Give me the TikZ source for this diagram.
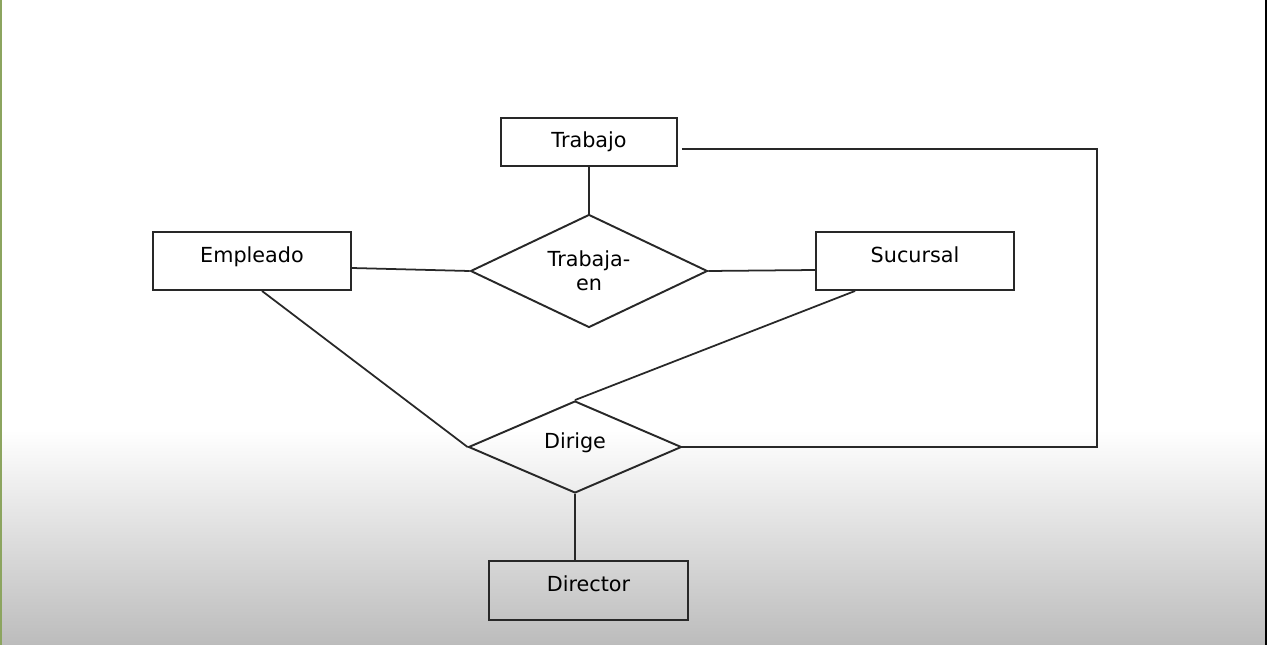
\documentclass[tikz,border=0pt]{standalone}
\usepackage{fontspec}
\setmainfont{DejaVu Sans}
\usetikzlibrary{shapes.geometric}
\definecolor{inkgray}{RGB}{40,40,40}
\definecolor{floorgray}{RGB}{188,188,188}
\definecolor{edgegreen}{RGB}{140,165,95}
\tikzset{
  entity/.style={draw=inkgray, line width=1.1pt, rectangle, inner sep=0pt,
    minimum width=3.96cm, minimum height=1.16cm},
  relation/.style={draw=inkgray, line width=1.1pt, diamond, inner sep=0pt,
    shape aspect=2.1, align=center},
  raised/.style={text height=0.8em, text depth=0.66em},
  link/.style={draw=inkgray, line width=1pt},
}
\begin{document}
\begin{tikzpicture}[x=0.02cm, y=-0.02cm, font=\fontsize{11.8}{13.6}\selectfont]
% background
\fill[white] (0,0) rectangle (1267,645);
\shade[top color=white, bottom color=floorgray] (0,430) rectangle (1267,645);
\fill[edgegreen] (0,0) rectangle (2,645);
\fill[black] (1265,0) rectangle (1267,645);
\useasboundingbox (0,0) rectangle (1267,645);

% entities
\node[entity, minimum width=3.52cm, minimum height=0.96cm] (trabajo) at (589,142) {Trabajo};
\node[entity, raised] (empleado) at (252,261) {Empleado};
\node[entity, raised] (sucursal) at (915,261) {Sucursal};
\node[entity, raised, minimum width=3.98cm, minimum height=1.18cm] (director) at (588.5,590.5) {Director};

% relations
\node[relation, minimum width=4.74cm, minimum height=2.26cm] (trabajaen) at (589,271) {Trabaja-\\en};
\node[relation, raised, minimum width=4.26cm, minimum height=1.84cm] (dirige) at (575,447) {Dirige};

% links
\draw[link] (trabajo.south) -- (trabajaen.north);
\draw[link] ([shift={(0,7)}]empleado.east) -- (trabajaen.west);
\draw[link] (trabajaen.east) -- ([shift={(0,9)}]sucursal.west);
\draw[link] ([shift={(10,0)}]empleado.south) -- (dirige.west);
\draw[link] ([shift={(40,0)}]sucursal.south west) -- (dirige.north);
\coordinate (loop) at (1097,447);
\draw[link] ([shift={(4,7)}]trabajo.east) -| (loop) -- (dirige.east);
\draw[link] (dirige.south) -- (dirige.south |- director.north);
\end{tikzpicture}
\end{document}
